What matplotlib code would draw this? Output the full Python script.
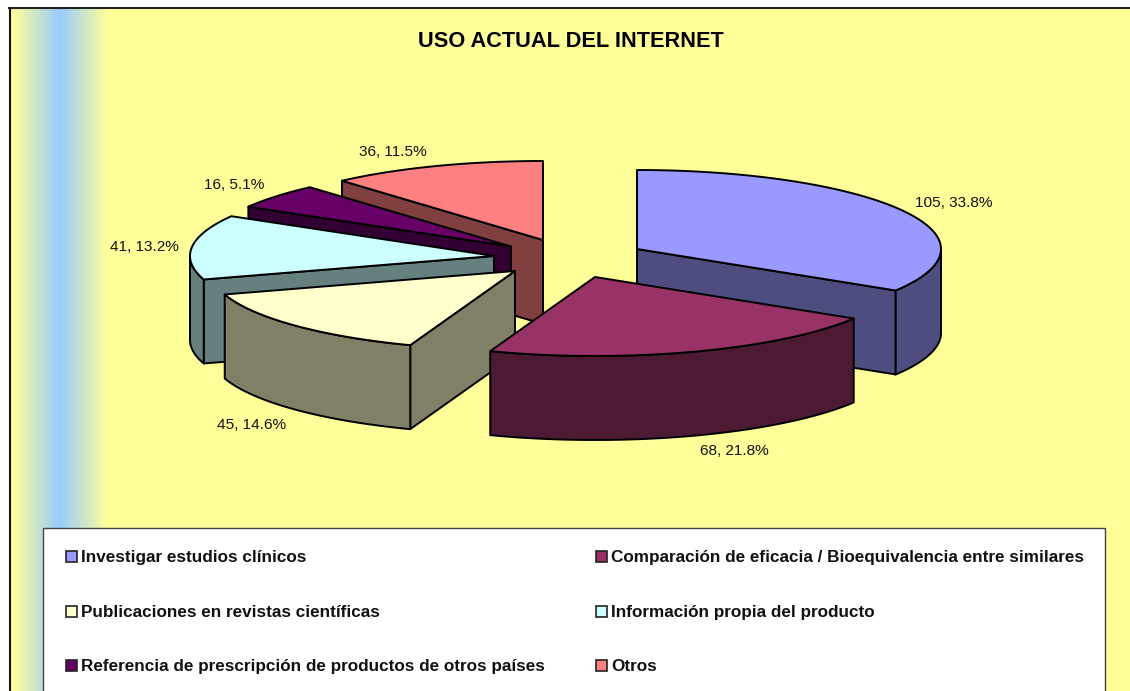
import numpy as np
import matplotlib
matplotlib.use('Agg')
import matplotlib.pyplot as plt
from matplotlib.colors import LinearSegmentedColormap
from matplotlib.patches import Polygon, Rectangle

DPI = 100

categories = ['Investigar estudios clínicos',
              'Comparación de eficacia / Bioequivalencia entre similares',
              'Publicaciones en revistas científicas',
              'Información propia del producto',
              'Referencia de prescripción de productos de otros países',
              'Otros']
counts = [105, 68, 45, 41, 16, 36]
percents = [33.8, 21.8, 14.6, 13.2, 5.1, 11.5]

top_colors = ['#9999FF', '#993366', '#FFFFCC', '#CCFFFF', '#660066', '#FF8080']
wall_colors = ['#4D4D80', '#4D1A33', '#808066', '#668080', '#330033', '#804040']

# pixel layout of the exploded slices
apex = [(637, 249), (595, 277), (515, 271), (494, 256), (511, 246.5), (543, 240)]
label_pos = [(953.5, 207), (734, 455), (251.5, 429), (144, 251), (234, 189), (393, 156)]
draw_order = [5, 4, 3, 2, 0, 1]
RX, RY, DEPTH = 304, 79, 84

plt.rcParams['font.family'] = ['Liberation Sans', 'DejaVu Sans']

fig = plt.figure(figsize=(1130 / DPI, 691 / DPI), dpi=DPI, facecolor='white')
ax = fig.add_axes([0, 0, 1, 1])

# panel background with the blue band on the left
cmap = LinearSegmentedColormap.from_list('band', [(0, '#FFFF99'), (.5, '#99CCFF'), (1, '#FFFF99')])
ax.add_patch(Rectangle((10, 8), 1130, 700, fc='#FFFF99', ec='none', zorder=0))
ax.imshow(np.linspace(0, 1, 256)[None, :], cmap=cmap, extent=(12, 108, 700, 8), aspect='auto', zorder=1)
ax.plot([10, 10], [8, 691], c='#111111', lw=1.5, zorder=2)
ax.plot([9, 1130], [8, 8], c='#222222', lw=1.5, zorder=2)

ax.set_xlim(0, 1130)
ax.set_ylim(691, 0)
ax.axis('off')


def rim(cx, cy, a, b):
    t = np.radians(np.linspace(a, b, 80))
    return cx + RX * np.sin(t), cy - RY * np.cos(t)


edges = np.concatenate([[0], np.cumsum(percents) * 3.6])
edge_kw = dict(ec='black', lw=1.4, joinstyle='round', zorder=3)
for i in draw_order:
    cx, cy = apex[i]
    a, b = edges[i], edges[i + 1]
    # radial walls that face the viewer
    for ang, show in ((a, np.sin(np.radians(a)) < -1e-6), (b, np.sin(np.radians(b)) > 1e-6)):
        if show:
            x, y = rim(cx, cy, ang, ang)
            pts = [(cx, cy), (x[0], y[0]), (x[0], y[0] + DEPTH), (cx, cy + DEPTH)]
            ax.add_patch(Polygon(pts, fc=wall_colors[i], **edge_kw))
    # outer wall, front half of the ellipse only
    lo, hi = max(a, 90), min(b, 270)
    if lo < hi:
        x, y = rim(cx, cy, lo, hi)
        pts = np.r_[np.c_[x, y], np.c_[x[::-1], y[::-1] + DEPTH]]
        ax.add_patch(Polygon(pts, fc=wall_colors[i], **edge_kw))
    x, y = rim(cx, cy, a, b)
    pts = np.r_[[(cx, cy)], np.c_[x, y]]
    ax.add_patch(Polygon(pts, fc=top_colors[i], **edge_kw))

for (x, y), n, p in zip(label_pos, counts, percents):
    ax.text(x, y, f'{n}, {p}%', ha='center', va='baseline', fontsize=11.1, color='#111111', zorder=4)

ax.text(570.5, 46.5, 'USO ACTUAL DEL INTERNET', ha='center', va='baseline', fontsize=15.65,
        fontweight='bold', color='black', zorder=4)

# legend box runs off the bottom of the picture
ax.add_patch(Rectangle((43, 528), 1061.5, 200, fc='white', ec='#444444', lw=1, zorder=3))
col_x = [66, 596]
row_y = [562, 617, 671]
for i, name in enumerate(categories):
    mx, my = col_x[i % 2], row_y[i // 2]
    ax.add_patch(Rectangle((mx, my - 11), 11, 11, fc=top_colors[i], ec='#222222', lw=1.2, zorder=4))
    ax.text(mx + 15, my, name, ha='left', va='baseline', fontsize=12.33, fontweight='bold',
            color='#111111', zorder=4)

fig.savefig('out.png', dpi=DPI)
